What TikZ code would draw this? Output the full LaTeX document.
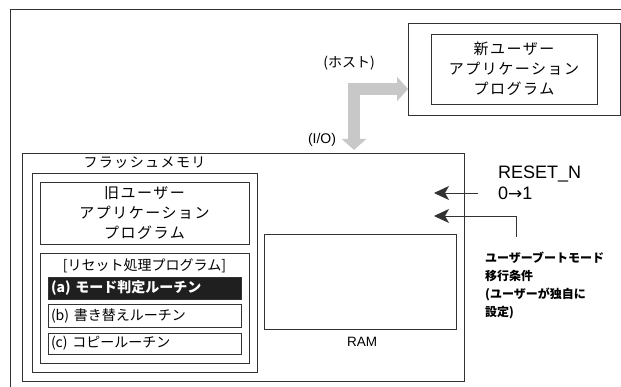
\documentclass[tikz,border=0pt]{standalone}
\usepackage{fontspec}
\setmainfont{Liberation Sans}
\newfontfamily\jp{Noto Sans CJK JP}
\newfontfamily\jpls{Noto Sans CJK JP}[LetterSpace=10]
\newfontfamily\dv{DejaVu Sans}
\usetikzlibrary{arrows.meta}
\definecolor{ln}{HTML}{333333}
\definecolor{arrgray}{HTML}{C8C8C8}
\begin{document}
\begin{tikzpicture}[x=1pt,y=-1pt,
  box/.style={draw=ln, line width=0.9pt, anchor=north west, inner sep=0pt, outer sep=0pt},
  bigtext/.style={font={\jpls\fontsize{15}{20}\selectfont}, align=center},
  routine/.style={box, minimum width=193pt, text width=187pt, inner xsep=3pt, align=left,
    font={\jp\fontsize{14}{16}\selectfont}},
  blkarrow/.style={draw=black!80, line width=0.9pt, -{Stealth[length=15pt,width=14pt,inset=4pt]}},
  grayarrow/.style={draw=arrgray, line width=12pt, line join=miter,
    {Triangle[length=11pt,width=24pt]}-{Triangle[length=11pt,width=24pt]}}
]
\useasboundingbox (0,0) rectangle (621,387);
% outer frame (open on right and bottom)
\draw[draw=ln, line width=1pt] (10,390) -- (10,10) -- (625,10);
% host side
\node[box, minimum width=212pt, minimum height=92pt] (hostouter) at (408,23) {};
\node[box, minimum width=166pt, minimum height=70pt, bigtext] (hostinner) at (431,34)
  {新ユーザー\\アプリケーション\\プログラム};
\node[font={\jp\fontsize{14}{16}\selectfont}] (hostlbl) at (349,63) {(ホスト)};
\node[font={\fontsize{14}{16}\selectfont}] (iolbl) at (322,140) {(I/O)};
% chip
\node[box, minimum width=442pt, minimum height=228pt] (chip) at (22,153) {};
\node[box, minimum width=225pt, minimum height=199pt] (flash) at (32,173) {};
\node[font={\jpls\fontsize{14}{16}\selectfont}] (flashlbl) at (144.5,163) {フラッシュメモリ};
\node[box, minimum width=209pt, minimum height=62pt, bigtext] (oldapp) at (40,182)
  {旧ユーザー\\アプリケーション\\プログラム};
\node[box, minimum width=209pt, minimum height=110pt] (reset) at (40,253) {};
\node[font={\jp\fontsize{14}{16}\selectfont}] (resetlbl) at (144.5,266) {[リセット処理プログラム]};
\node[routine, minimum height=22pt, fill=black!88, text=white, font={\jp\bfseries\fontsize{14}{16}\selectfont}] (ra) at (48,277) {(a) モード判定ルーチン};
\node[routine, minimum height=23pt] (rb) at (48,304) {(b) 書き替えルーチン};
\node[routine, minimum height=21pt] (rc) at (48,333) {(c) コピールーチン};
\node[box, minimum width=192pt, minimum height=95pt] (ram) at (264,234) {};
\node[font={\fontsize{13.5}{16}\selectfont}] (ramlbl) at (362,342) {RAM};
% right side labels
\node[anchor=north west, inner sep=0pt, align=left, font={\fontsize{18}{21}\selectfont}] (rstlbl) at (498,165.5)
  {RESET\_N\\0{\dv\fontsize{17}{21}\selectfont →}1};
\node[anchor=north west, inner sep=0pt, align=left, font={\jp\bfseries\fontsize{12}{18}\selectfont}] (cond) at (485,252)
  {ユーザーブートモード\\移行条件\\(ユーザーが独自に\\設定)};
% connectors
\coordinate (ioend) at (354,150);
\coordinate (hostend) at (408,89);
\draw[grayarrow] (ioend) |- (hostend);
\coordinate (rststart) at (478,193);
\coordinate (rsttip) at (434,193);
\draw[blkarrow] (rststart) -- (rsttip);
\coordinate (condstart) at (516,237);
\coordinate (condtip) at (434,216);
\draw[blkarrow] (condstart) |- (condtip);
\end{tikzpicture}
\end{document}
